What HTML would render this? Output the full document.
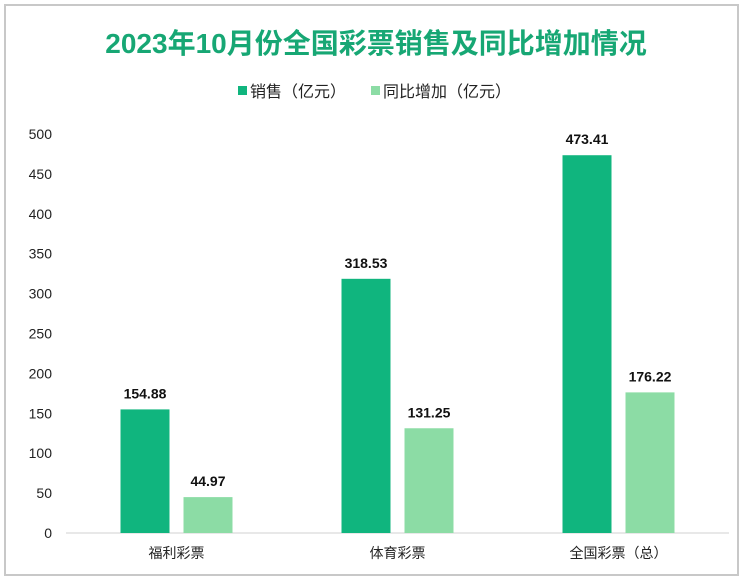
<!DOCTYPE html>
<html><head><meta charset="utf-8"><style>
body{margin:0;background:#fff;}
svg text{font-family:"Liberation Sans","Noto Sans CJK SC",sans-serif;}
</style></head><body>
<svg width="743" height="580">
<rect x="5" y="5" width="733" height="570" fill="#fff" stroke="#c8c8c8" stroke-width="2"/>
<text x="376" y="53" text-anchor="middle" font-size="28" font-weight="bold" fill="#17a774">2023年10月份全国彩票销售及同比增加情况</text>
<g>
<rect x="238" y="86" width="9" height="9" fill="#10b57e"/>
<text x="250" y="97" font-size="16" fill="#222">销售（亿元）</text>
<rect x="371" y="86" width="9" height="9" fill="#8cdca5"/>
<text x="383" y="97" font-size="16" fill="#222">同比增加（亿元）</text>
</g>
<g id="plot"></g>
</svg>
<script>
const categories=["福利彩票","体育彩票","全国彩票（总）"];
const sales=[154.88,318.53,473.41];
const growth=[44.97,131.25,176.22];
const ticks=[0,50,100,150,200,250,300,350,400,450,500];
const L=66,R=729,B=533,T=134,maxV=500;
const y=v=>B-(v/maxV)*(B-T);
const cw=(R-L)/categories.length;
const cx=i=>L+cw*(i+0.5);
const g=document.getElementById('plot');
const NS='http://www.w3.org/2000/svg';
function mk(t,a){const e=document.createElementNS(NS,t);for(const k in a)e.setAttribute(k,a[k]);g.appendChild(e);return e;}
ticks.forEach(t=>{const e=mk('text',{x:52,y:y(t)+5,'text-anchor':'end','font-size':14,fill:'#222'});e.textContent=t;

});
const ax=mk('line',{x1:L,x2:R,y1:B,y2:B,stroke:'#d0d0d0','stroke-width':1});


const bw=49,gap=14;
categories.forEach((c,i)=>{
 const x1=cx(i)-gap/2-bw,x2=cx(i)+gap/2;
 const b1=mk('rect',{x:x1,y:y(sales[i]),width:bw,height:B-y(sales[i]),fill:'#10b57e'});
 
 
 const b2=mk('rect',{x:x2,y:y(growth[i]),width:bw,height:B-y(growth[i]),fill:'#8cdca5'});
 
 
 const t1=mk('text',{x:x1+bw/2,y:y(sales[i])-11,'text-anchor':'middle','font-size':14,'font-weight':'bold',fill:'#111'});t1.textContent=sales[i].toFixed(2);
 
 
 const t2=mk('text',{x:x2+bw/2,y:y(growth[i])-11,'text-anchor':'middle','font-size':14,'font-weight':'bold',fill:'#111'});t2.textContent=growth[i].toFixed(2);
 
 
 const cl=mk('text',{x:cx(i),y:B+25,'text-anchor':'middle','font-size':14,fill:'#222'});cl.textContent=c;
 
 
});
</script>
</body></html>
